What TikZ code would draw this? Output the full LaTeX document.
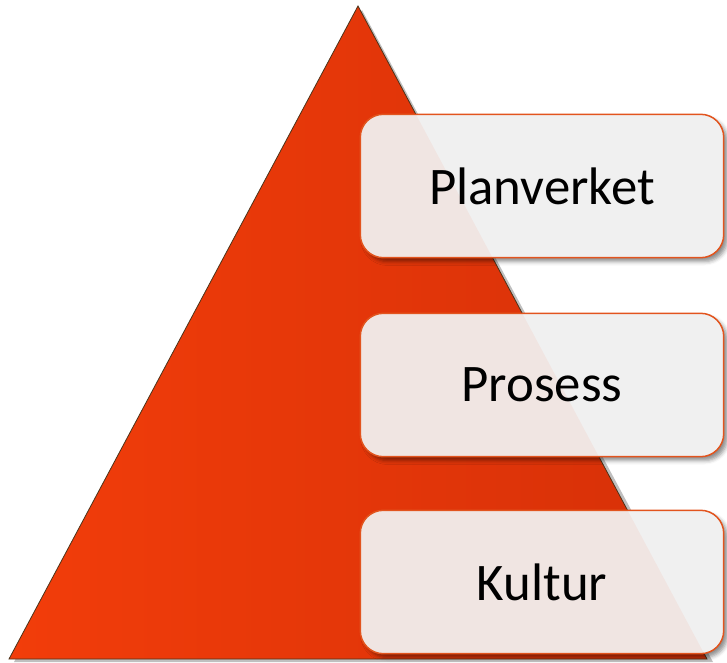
\documentclass[tikz,border=0pt]{standalone}
\usepackage{fontspec}
\setmainfont{Carlito}
\usetikzlibrary{shadows.blur}
\definecolor{triL}{HTML}{F23D0A}
\definecolor{triR}{HTML}{D63008}
\definecolor{boxfill}{HTML}{F0F0F0}
\definecolor{boxedge}{HTML}{E2541E}
\tikzset{
  levelbox/.style={fill=boxfill, rounded corners=23bp, minimum width=363bp, minimum height=143bp,
    font=\fontsize{53}{60}\selectfont, text=black,
    blur shadow={shadow xshift=4bp, shadow yshift=-4bp, shadow blur radius=4bp, shadow opacity=45}},
  boxline/.style={draw=boxedge, line width=1.5bp, rounded corners=23bp},
}
\newcommand{\tri}{(358,6) -- (707,659) -- (9,659) -- cycle}
\begin{document}
\begin{tikzpicture}[x=1bp,y=-1bp]
\useasboundingbox (0,0) rectangle (727,663);
% pyramid shadow
\fill[black, opacity=0.25] (362,10) -- (713,662) -- (14,662) -- cycle;
\path[draw=black!60!brown, line width=0.8bp, left color=triL, right color=triR] \tri;
\node[levelbox] (plan) at (542,186) {};
\node[levelbox] (pros) at (542,385) {};
\node[levelbox] (kult) at (542,582) {};
\foreach \b in {plan,pros,kult}{
  \begin{scope}
    \clip[rounded corners=23bp] (\b.south west) rectangle (\b.north east);
    \fill[triL, opacity=0.06] \tri;
  \end{scope}
  \draw[boxline] (\b.south west) rectangle (\b.north east);
}
\node[font=\fontsize{53}{60}\selectfont] at (plan) {Planverket};
\node[font=\fontsize{53}{60}\selectfont] at (pros) {Prosess};
\node[font=\fontsize{53}{60}\selectfont] at (kult) {Kultur};
\end{tikzpicture}
\end{document}
